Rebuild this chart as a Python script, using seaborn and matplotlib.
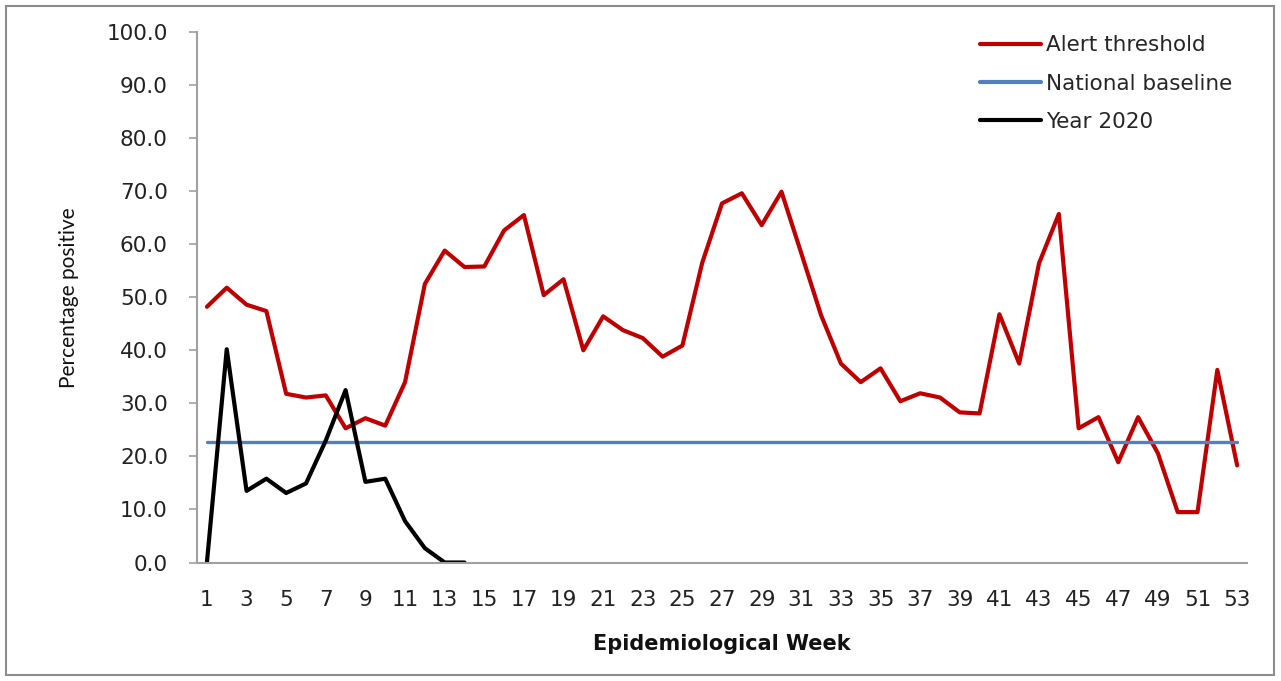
import pandas as pd
import matplotlib
matplotlib.use("Agg")
import matplotlib.pyplot as plt
from matplotlib.patches import Rectangle
import seaborn as sns

# Epidemiological weeks 1..53
weeks = list(range(1, 54))

# Alert threshold (percentage positive)
alert_threshold = [
    48.2, 51.8, 48.6, 47.4, 31.8, 31.1, 31.5, 25.3, 27.2, 25.8,
    34.0, 52.5, 58.8, 55.7, 55.8, 62.6, 65.5, 50.4, 53.4, 40.0,
    46.4, 43.8, 42.3, 38.8, 40.9, 56.5, 67.7, 69.6, 63.6, 69.9,
    58.3, 46.6, 37.5, 34.0, 36.6, 30.4, 31.9, 31.1, 28.3, 28.1,
    46.8, 37.5, 56.4, 65.7, 25.3, 27.4, 18.9, 27.4, 20.6, 9.5,
    9.5, 36.3, 18.3,
]

# National baseline (flat)
baseline_value = 22.7

# Year 2020, weeks 1..14
weeks_2020 = list(range(1, 15))
year_2020 = [0.0, 40.2, 13.5, 15.8, 13.1, 14.9, 23.0, 32.5, 15.2, 15.8,
             7.8, 2.7, 0.0, 0.0]

series_names = ["Alert threshold", "National baseline", "Year 2020"]
series_colors = ["#C00000", "#4F81BD", "#000000"]


def build_frame():
    frames = [
        pd.DataFrame({"week": weeks, "value": alert_threshold, "series": series_names[0]}),
        pd.DataFrame({"week": weeks, "value": [baseline_value] * len(weeks), "series": series_names[1]}),
        pd.DataFrame({"week": weeks_2020, "value": year_2020, "series": series_names[2]}),
    ]
    return pd.concat(frames, ignore_index=True)


def draw(df):
    sns.set_style("white")
    plt.rcParams["font.family"] = ["DejaVu Sans"]

    fig = plt.figure(figsize=(12.81, 6.81), dpi=100)
    ax = fig.add_axes([0.1538, 0.174, 0.8197, 0.779])

    palette = dict(zip(series_names, series_colors))
    sns.lineplot(data=df, x="week", y="value", hue="series", hue_order=series_names,
                 palette=palette, linewidth=3, ax=ax, legend=True)
    # baseline line is a bit thinner
    for line, name in zip(ax.get_lines(), series_names):
        if name == "National baseline":
            line.set_linewidth(2.4)

    ax.set_xlim(0.5, 53.5)
    ax.set_ylim(0, 100)
    ax.set_xticks(weeks[::2])
    ax.set_xticklabels([str(w) for w in weeks[::2]])
    ax.set_yticks(range(0, 101, 10))
    ax.set_yticklabels([f"{v:.1f}" for v in range(0, 101, 10)])
    ax.tick_params(axis="y", left=True, length=6, width=1.2, color="#A0A0A0",
                   direction="out", labelsize=15.5, pad=15, labelcolor="#222222")
    ax.tick_params(axis="x", bottom=False, length=0, labelsize=15.5, pad=20,
                   labelcolor="#222222")

    for side in ["top", "right"]:
        ax.spines[side].set_visible(False)
    for side in ["left", "bottom"]:
        ax.spines[side].set_color("#A0A0A0")
        ax.spines[side].set_linewidth(1.5)

    ax.set_xlabel("Epidemiological Week", fontsize=15, fontweight="bold",
                  color="#111111", labelpad=17)
    ax.set_ylabel("Percentage positive", fontsize=15, color="#111111",
                  family=["Lato", "DejaVu Sans"], labelpad=20)

    handles, labels = ax.get_legend_handles_labels()
    leg = ax.legend(handles, labels, loc="upper left",
                    bbox_to_anchor=(961 / 1281, 665 / 681),
                    bbox_transform=fig.transFigure,
                    frameon=False, fontsize=15.5, handlelength=2.8, handletextpad=0.25,
                    labelspacing=0.85)
    for h in leg.get_lines():
        h.set_linewidth(3)

    # chart area border
    fig.patches.append(Rectangle((6 / 1281, 6 / 681), 1268 / 1281, 669 / 681,
                                 transform=fig.transFigure, fill=False,
                                 edgecolor="#8C8C8C", linewidth=1.5))

    fig.savefig("out.png", dpi=100)


if __name__ == "__main__":
    draw(build_frame())
